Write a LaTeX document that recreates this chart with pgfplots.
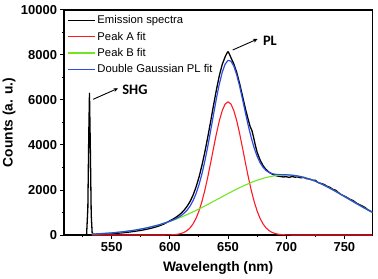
\documentclass[border=0pt]{standalone}
\usepackage{pgfplots}
\pgfplotsset{compat=1.18}
\usepackage{fontspec}
\setmainfont{Liberation Sans}
\newfontfamily\calfont{Carlito}
\usetikzlibrary{arrows.meta}
\definecolor{fitred}{RGB}{255,25,35}
\definecolor{fitgreen}{RGB}{115,230,35}
\definecolor{fitblue}{RGB}{45,75,230}
\begin{document}
\begin{tikzpicture}
\begin{axis}[
  at={(0,0)}, anchor=south west,
  scale only axis, width=308.3bp, height=225bp,
  xmin=509, xmax=774, ymin=0, ymax=10000,
  xtick={550,600,650,700,750}, minor xtick={525,575,625,675,725},
  ytick={0,2000,4000,6000,8000,10000}, minor ytick={1000,3000,5000,7000,9000},
  tick align=outside, xtick pos=left, ytick pos=left,
  major tick length=3.5bp, minor tick length=2.2bp,
  every tick/.style={black, line width=1bp},
  axis line style={line width=1.2bp},
  scaled y ticks=false,
  /pgf/number format/.cd, set thousands separator={}, assume math mode=true, /pgfplots/.cd,
  ticklabel style={font=\bfseries\fontsize{13}{13}\selectfont},
  xlabel={Wavelength (nm)}, ylabel={Counts (a. u.)},
  label style={font=\bfseries\fontsize{13.8}{14}\selectfont},
  xlabel style={at={(axis description cs:0.5,-0.147)}, anchor=center},
  ylabel style={at={(axis description cs:-0.178,0.5)}, anchor=center},
  legend style={at={(axis description cs:0,1)}, anchor=north west, draw=none, fill=none,
    font=\fontsize{11.3}{12}\selectfont, inner xsep=3bp, inner ysep=3.5bp, row sep=2.6bp},
  legend cell align=left,
  legend image code/.code={\path (0bp,0bp) -- (27bp,0bp); \draw[#1] (2bp,0bp) -- (23.5bp,0bp);},
  every axis plot/.append style={line join=round},
]
\addplot[black, line width=1.3bp] table {
509 0
528.4 0
529.5 1200
530.3 4500
530.9 6300
531.6 4000
532.4 900
533.2 100
535 25
540 30
545 45
550 60
555 78
560 100
565 130
570 165
575 205
580 255
585 315
590 390
595 490
600 630
602.5 700
605 780
607.5 870
610 980
612.5 1120
615 1290
617.5 1500
620 1780
622.5 2130
625 2560
627.5 3080
630 3670
632.5 4330
635 5030
637.5 5760
640 6450
642.5 7080
645 7580
647.5 7920
649 8080
650 8150
651 8060
652.5 7880
655 7600
657.5 7220
660 6720
662.5 6160
665 5600
667.5 5100
669 4820
670.5 4650
672 4330
673.5 3980
675 3680
677.5 3340
680 3090
682.5 2920
685 2800
687.5 2720
690 2660
692.5 2620
695 2600
697.5 2580
700 2590
702.5 2560
705 2600
707.5 2570
710 2580
712.5 2540
715 2560
717.5 2500
720 2490
722.5 2440
725 2430
727.5 2330
730 2290
732.5 2250
735 2170
737.5 2120
740 2030
742.5 1990
745 1880
747.5 1790
750 1730
752.5 1660
755 1580
757.5 1530
760 1430
762.5 1360
765 1300
767.5 1230
770 1130
772.5 1060
775 980
};
\addlegendentry{Emission spectra}
\addplot[fitred, line width=1.1bp] table {
533 0
595 1
600 6
602.5 12
605 23
607.5 42
610 73
612.5 125
615 205
617.5 326
620 501
622.5 743
625 1066
627.5 1477
630 1976
632.5 2555
635 3193
637.5 3856
640 4500
642.5 5073
645 5527
647.5 5819
650 5920
652.5 5819
655 5527
657.5 5073
660 4500
662.5 3856
665 3193
667.5 2555
670 1976
672.5 1477
675 1066
677.5 743
680 501
682.5 326
685 205
687.5 125
690 73
692.5 42
695 23
697.5 12
700 6
705 1
775 0
};
\addlegendentry{Peak A fit}
\addplot[fitgreen, line width=1.1bp] table {
533 42
540 59
550 94
560 145
570 217
580 314
590 442
600 604
605 698
610 801
615 912
620 1031
625 1157
630 1289
635 1425
640 1564
645 1703
650 1841
655 1976
660 2105
665 2225
670 2336
675 2433
680 2516
685 2582
690 2630
695 2660
700 2670
705 2658
710 2623
715 2565
720 2487
725 2389
730 2275
735 2147
740 2008
745 1862
750 1711
755 1558
760 1407
765 1259
770 1116
775 981
};
\addlegendentry{Peak B fit}
\addplot[fitblue, line width=1.2bp] table {
533 42
540 59
550 94
560 145
570 217
580 314
590 442
600 610
602.5 663
605 721
607.5 792
610 874
612.5 982
615 1117
617.5 1297
620 1532
622.5 1837
625 2223
627.5 2700
630 3265
632.5 3912
635 4618
637.5 5350
640 6064
642.5 6706
645 7230
647.5 7591
650 7761
652.5 7727
655 7503
657.5 7113
660 6605
662.5 6021
665 5418
667.5 4835
670 4312
672.5 3862
675 3499
677.5 3218
680 3017
682.5 2875
685 2787
687.5 2731
690 2703
692.5 2687
695 2683
697.5 2677
700 2676
705 2659
710 2623
715 2565
720 2487
725 2389
730 2275
735 2147
740 2008
745 1862
750 1711
755 1558
760 1407
765 1259
770 1116
775 981
};
\addlegendentry{Double Gaussian PL fit}
\draw[-{Stealth[length=4.5bp,width=4bp]}, line width=0.9bp] (axis cs:534,6030) -- (axis cs:555.5,6520);
\node[font=\calfont\bfseries\fontsize{14.5}{15}\selectfont] at (axis cs:570,6444) {SHG};
\draw[-{Stealth[length=4.5bp,width=4bp]}, line width=0.9bp] (axis cs:654,8222) -- (axis cs:675.4,8711);
\node[font=\calfont\bfseries\fontsize{14.5}{15}\selectfont] at (axis cs:686,8636) {PL};
\end{axis}
\pgfresetboundingbox
\path (-64bp,-44bp) rectangle (314bp,235bp);
\end{tikzpicture}
\end{document}
